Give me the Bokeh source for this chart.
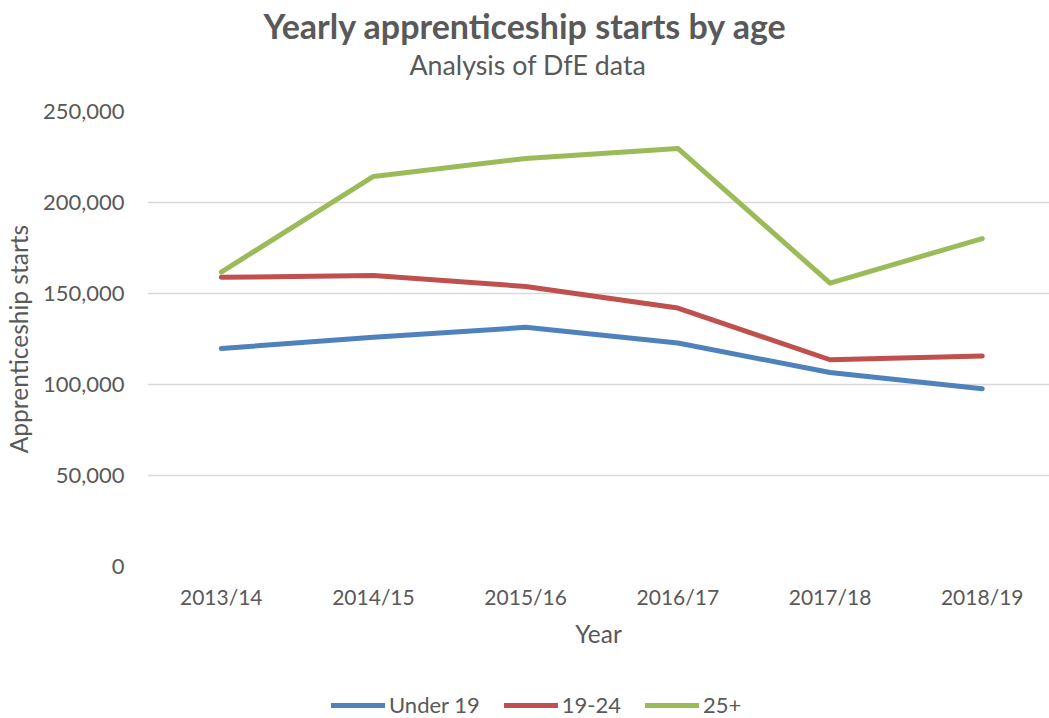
from bokeh.plotting import figure
from bokeh.layouts import column
from bokeh.models import (Range1d, FixedTicker, NumeralTickFormatter, Title,
                          Legend, LegendItem)
from bokeh.embed import file_html
from bokeh.resources import INLINE

years = ["2013/14", "2014/15", "2015/16", "2016/17", "2017/18", "2018/19"]
under19 = [119800, 125900, 131400, 122800, 106600, 97700]
age19_24 = [158900, 159900, 153900, 142000, 113600, 115600]
age25plus = [161800, 214300, 224200, 229700, 155700, 180200]
series_names = ["Under 19", "19-24", "25+"]
colors = ["#4F81BD", "#C0504D", "#9BBB59"]
y_ticks = [0, 50000, 100000, 150000, 200000, 250000]

FONT = "Lato"
TXT = "#595959"

xs = list(range(len(years)))
all_series = [under19, age19_24, age25plus]

p = figure(width=1049, height=688, output_backend="svg", toolbar_location=None,
           x_range=Range1d(-0.4846, 5.442), y_range=Range1d(0, 250000),
           min_border_left=144, min_border_right=0, min_border_top=111,
           min_border_bottom=122)
p.outline_line_color = None
p.background_fill_color = "white"
p.border_fill_color = "white"

for vals, c in zip(all_series, colors):
    p.line(xs, vals, line_color=c, line_width=5, line_cap="round",
           line_join="round")

# axes
p.xaxis.ticker = FixedTicker(ticks=xs)
p.xaxis.major_label_overrides = {i: y for i, y in enumerate(years)}
p.yaxis.ticker = FixedTicker(ticks=y_ticks)
p.yaxis.formatter = NumeralTickFormatter(format="0,0")
for ax in (p.xaxis, p.yaxis):
    ax.axis_line_color = None
    ax.major_tick_line_color = None
    ax.minor_tick_line_color = None
    ax.major_tick_out = 0
    ax.major_tick_in = 0
    ax.minor_tick_out = 0
    ax.minor_tick_in = 0
    ax.major_label_text_font = FONT
    ax.major_label_text_color = TXT
    ax.axis_label_text_font = FONT
    ax.axis_label_text_color = TXT
    ax.axis_label_text_font_size = "24.5px"
    ax.axis_label_text_font_style = "normal"
p.xaxis.major_label_text_font_size = "21px"
p.yaxis.major_label_text_font_size = "22px"
p.xaxis.axis_label = "Year"
p.yaxis.axis_label = "Apprenticeship starts"
p.yaxis.major_label_standoff = 23
p.xaxis.major_label_standoff = 17
p.xaxis.axis_label_standoff = 7
p.yaxis.axis_label_standoff = 7

p.xgrid.grid_line_color = None
p.ygrid.grid_line_color = "#D9D9D9"
p.ygrid.grid_line_width = 1.3

# titles (first added is closest to the frame); a blank spacer fills the gap
p.add_layout(Title(text=" ", text_font=FONT, text_font_size="1px",
                   standoff=25), "above")
p.add_layout(Title(text="Analysis of DfE data", text_font=FONT,
                   text_font_size="26.8px", text_font_style="normal",
                   text_color=TXT, align="left", offset=262, standoff=6), "above")
p.add_layout(Title(text="Yearly apprenticeship starts by age", text_font=FONT,
                   text_font_size="34px", text_font_style="bold",
                   text_color=TXT, align="left", offset=116, standoff=-4), "above")

# legend strip (separate figure; its lines lie outside its visible range)
lg = figure(width=1049, height=30, output_backend="svg", toolbar_location=None,
            x_axis_type=None, y_axis_type=None,
            x_range=Range1d(0, 1), y_range=Range1d(-2, -1),
            min_border=0)
lg.outline_line_color = None
lg.background_fill_color = "white"
lg.border_fill_color = "white"
leg_renderers = [lg.line(xs, vals, line_color=c, line_width=5, line_cap="round")
                 for vals, c in zip(all_series, colors)]
legend = Legend(items=[LegendItem(label=n, renderers=[r])
                       for n, r in zip(series_names, leg_renderers)],
                orientation="horizontal", location=(184, 0),
                label_text_font=FONT, label_text_font_size="22px",
                label_text_color=TXT, glyph_width=54, label_standoff=4,
                spacing=24, border_line_color=None, background_fill_alpha=0,
                margin=0, padding=2)
lg.add_layout(legend, "center")

layout = column(p, lg, spacing=0)
open("out.html", "w").write(file_html(layout, INLINE))
